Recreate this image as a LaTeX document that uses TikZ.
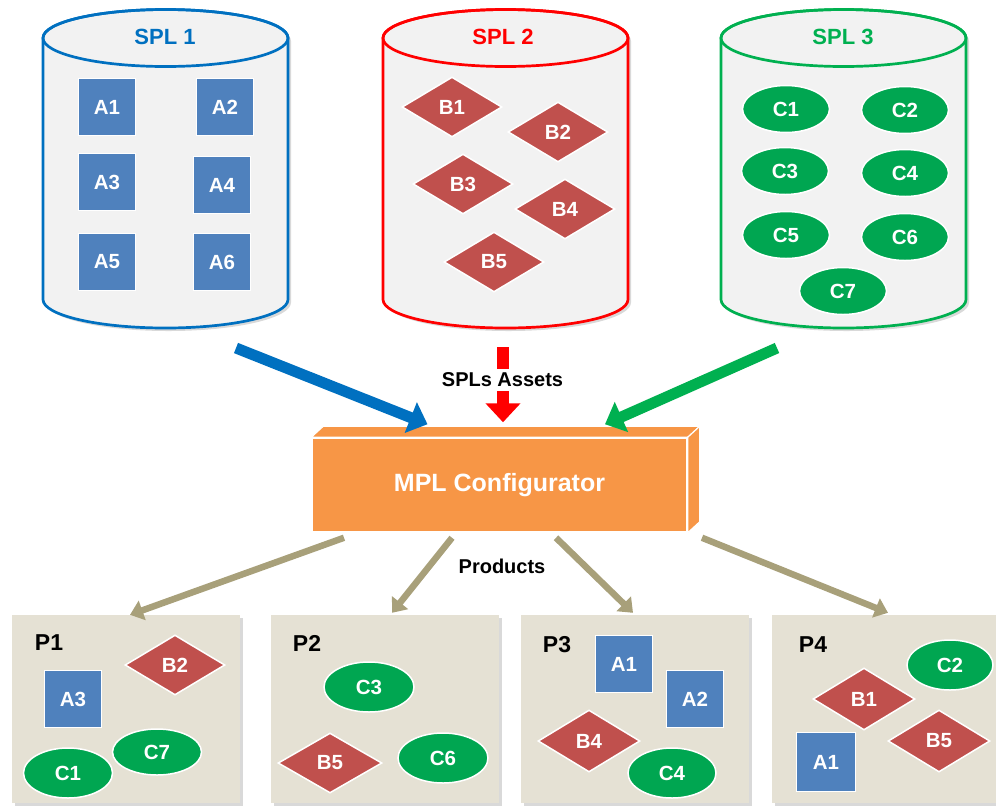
\documentclass[tikz,border=0pt]{standalone}
\usepackage{fontspec}
\setmainfont{Liberation Sans}
\usetikzlibrary{shapes.geometric,arrows.meta,shadows,calc}

\definecolor{splblue}{HTML}{0070C0}
\definecolor{splred}{HTML}{FF0000}
\definecolor{splgreen}{HTML}{00B050}
\definecolor{sqblue}{HTML}{4F81BD}
\definecolor{diared}{HTML}{C0504D}
\definecolor{elgreen}{HTML}{00A651}
\definecolor{cylfill}{HTML}{F2F2F2}
\definecolor{mplorange}{HTML}{F79646}
\definecolor{prodarrow}{HTML}{A8A07A}
\definecolor{prodfill}{HTML}{E5E1D4}

% one product-line cylinder: #1 centre x, #2 outline colour
\newcommand\drawcylinder[2]{%
  \path[fill=cylfill, draw=#2, line width=2.7pt,
        drop shadow={shadow xshift=3pt, shadow yshift=-3pt, opacity=0.3}]
    (#1-122.5,38) -- (#1-122.5,299.5)
    arc[start angle=180, end angle=360, x radius=122.5pt, y radius=28.5pt]
    -- (#1+122.5,38)
    arc[start angle=0, end angle=180, x radius=122.5pt, y radius=28.5pt]
    -- cycle;
  \draw[#2, line width=2.7pt] (#1,38) ellipse[x radius=122.5pt, y radius=28.5pt];
}

\tikzset{
  itemfont/.style={font=\fontsize{20.5}{22}\selectfont\bfseries},
  sq/.style={rectangle, fill=sqblue, draw=white, line width=1.5pt,
    minimum width=57pt, minimum height=57pt, inner sep=0pt, text=white, itemfont},
  dia/.style={diamond, fill=diared, draw=white, line width=1.5pt,
    minimum width=100pt, minimum height=60pt, inner sep=0pt, text=white, itemfont},
  ell/.style={ellipse, fill=elgreen, draw=white, line width=1.5pt,
    minimum width=87pt, minimum height=47pt, inner sep=0pt, text=white, itemfont},
  spltitle/.style={font=\fontsize{22}{24}\selectfont\bfseries},
  prodbox/.style={rectangle, fill=prodfill, minimum width=228pt, minimum height=188pt,
    inner sep=0pt, drop shadow={shadow xshift=3pt, shadow yshift=-3pt, opacity=0.3}},
  plabel/.style={font=\fontsize{23}{25}\selectfont\bfseries, text=black},
  mplbox/.style={rectangle, fill=mplorange, draw=white, line width=1.5pt,
    minimum width=375pt, minimum height=94pt, text=white,
    font=\fontsize{25}{27}\selectfont\bfseries},
  flowlabel/.style={font=\fontsize{20}{22}\selectfont\bfseries, text=black},
  inarrow/.style={line width=11pt, -{Triangle[length=18pt, width=32pt]}},
  outarrow/.style={prodarrow, line width=6.5pt, -{Triangle[length=13pt, width=20pt]}},
}

\begin{document}
\begin{tikzpicture}[x=1pt, y=-1pt]
\useasboundingbox (0,0) rectangle (996,807);

% ---- the three product lines ----
\drawcylinder{165.5}{splblue}
\drawcylinder{505.5}{splred}
\drawcylinder{843.5}{splgreen}

\node[spltitle, text=splblue]  (spl1) at (165,37) {SPL 1};
\node[spltitle, text=splred]   (spl2) at (503,37) {SPL 2};
\node[spltitle, text=splgreen] (spl3) at (843,37) {SPL 3};

% SPL 1 assets
\node[sq] (a1) at (107,107) {A1};
\node[sq] (a2) at (225,107) {A2};
\node[sq] (a3) at (107,182) {A3};
\node[sq] (a4) at (222,185) {A4};
\node[sq] (a5) at (107,262) {A5};
\node[sq] (a6) at (222,262) {A6};

% SPL 2 assets
\node[dia] (b1) at (452,107) {B1};
\node[dia] (b2) at (558,132) {B2};
\node[dia] (b3) at (463,184) {B3};
\node[dia] (b4) at (565,209) {B4};
\node[dia] (b5) at (494,262) {B5};

% SPL 3 assets
\node[ell] (c1) at (786,109) {C1};
\node[ell] (c2) at (905,110) {C2};
\node[ell] (c3) at (785,171) {C3};
\node[ell] (c4) at (905,173) {C4};
\node[ell] (c5) at (786,235) {C5};
\node[ell] (c6) at (905,237) {C6};
\node[ell] (c7) at (843,291) {C7};

% ---- configurator block ----
\node[mplbox] (mpl) at (499.5,485) {MPL Configurator};
\draw[fill=mplorange, draw=white, line width=1.2pt]
  (mpl.north west) -- ++(12,-11) -- ($(mpl.north east)+(12,-11)$) -- (mpl.north east) -- cycle;
\draw[fill=mplorange, draw=white, line width=1.2pt]
  (mpl.north east) -- ++(12,-11) -- ($(mpl.south east)+(12,-11)$) -- (mpl.south east) -- cycle;

% ---- asset flows into the configurator ----
\coordinate (fromspl1) at (236,348);
\coordinate (fromspl2) at (503,347);
\coordinate (fromspl3) at (777,348);
\draw[inarrow, splblue]  (fromspl1) -- ([xshift=-72pt, yshift=13pt]mpl.north);
\draw[inarrow, splgreen] (fromspl3) -- ([xshift=105.5pt, yshift=13pt]mpl.north);
\draw[splred, line width=12pt, -{Triangle[length=19pt, width=34pt]}]
  (fromspl2) -- ([xshift=3.5pt, yshift=15pt]mpl.north);
\node[flowlabel, fill=white, inner xsep=2pt, inner ysep=4pt] (assets) at (502.5,380) {SPLs Assets};

% ---- products ----
\node[prodbox] (p1) at (126,709) {};
\node[prodbox] (p2) at (385,709) {};
\node[prodbox] (p3) at (635,709) {};
\node[prodbox] (p4) at (886,709) {};

\node[flowlabel] (prods) at (502,566) {Products};

\draw[outarrow] ([xshift=-155.5pt, yshift=-5pt]mpl.south) -- ([xshift=4pt]p1.north);
\draw[outarrow] ([xshift=-47.5pt, yshift=-5pt]mpl.south) -- ([xshift=7pt, yshift=2pt]p2.north);
\draw[outarrow] ([xshift=56.5pt, yshift=-5pt]mpl.south) -- ([xshift=-2pt, yshift=2pt]p3.north);
\draw[outarrow] ([xshift=202.5pt, yshift=-5pt]mpl.south) -- ([xshift=2pt, yshift=2pt]p4.north);

% P1
\node[plabel] (p1lbl) at (49,643) {P1};
\node[sq]  (p1a3) at (73,699)  {A3};
\node[dia] (p1b2) at (175,665) {B2};
\node[ell, minimum width=89pt, minimum height=46pt] (p1c7) at (157,752) {C7};
\node[ell, minimum width=89pt, minimum height=50pt] (p1c1) at (68,773)  {C1};

% P2
\node[plabel] (p2lbl) at (307,643) {P2};
\node[ell, minimum width=90pt, minimum height=50pt] (p2c3) at (369,687) {C3};
\node[dia, minimum width=104pt] (p2b5) at (330,763) {B5};
\node[ell, minimum width=90pt, minimum height=50pt] (p2c6) at (443,758) {C6};

% P3
\node[plabel] (p3lbl) at (557,645) {P3};
\node[sq]  (p3a1) at (624,664) {A1};
\node[sq]  (p3a2) at (695,699) {A2};
\node[dia, minimum width=102pt, minimum height=62pt] (p3b4) at (589,741) {B4};
\node[ell, minimum width=88pt, minimum height=50pt] (p3c4) at (672,773) {C4};

% P4
\node[plabel] (p4lbl) at (813,645) {P4};
\node[ell, minimum width=86pt, minimum height=50pt] (p4c2) at (950,665) {C2};
\node[dia, minimum width=102pt, minimum height=62pt] (p4b1) at (864,699) {B1};
\node[dia, minimum width=102pt, minimum height=62pt] (p4b5) at (939,741) {B5};
\node[sq, minimum width=59pt, minimum height=59pt] (p4a1) at (826,762) {A1};
\end{tikzpicture}
\end{document}
